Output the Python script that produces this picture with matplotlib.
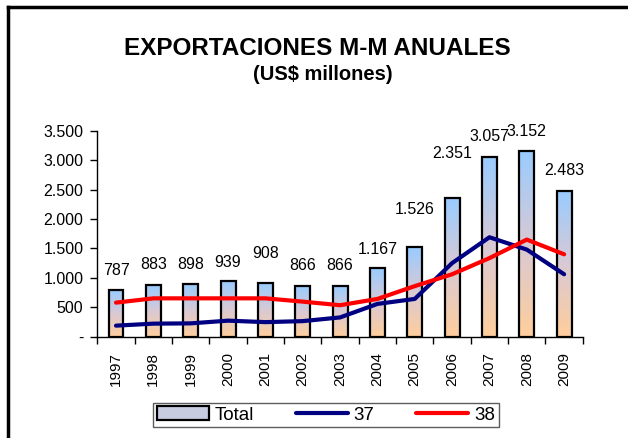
import numpy as np
import matplotlib
matplotlib.use('Agg')
import matplotlib.pyplot as plt
from matplotlib.colors import LinearSegmentedColormap
from matplotlib.patches import Rectangle

plt.rcParams['font.family'] = ['Liberation Sans', 'DejaVu Sans']

years = ['1997', '1998', '1999', '2000', '2001', '2002', '2003',
         '2004', '2005', '2006', '2007', '2008', '2009']
total = [787, 883, 898, 939, 908, 866, 866, 1167, 1526, 2351, 3057, 3152, 2483]
s37 = [185, 219, 224, 270, 245, 262, 325, 555, 640, 1250, 1690, 1480, 1060]
s38 = [577, 650, 650, 650, 650, 594, 533, 640, 858, 1060, 1335, 1650, 1400]
total_labels = ['787', '883', '898', '939', '908', '866', '866',
                '1.167', '1.526', '2.351', '3.057', '3.152', '2.483']
# label distance above the bar top (px), a few were moved up by hand
label_dy = [20, 20, 19, 19, 30, 20, 20, 18, 37, 45, 20, 20, 20]

fig = plt.figure(figsize=(6.28, 4.38), dpi=100)
ax = fig.add_axes([0.155, 0.2317, 0.773, 0.4693])

x = np.arange(len(years))
w = 0.4
cmap = LinearSegmentedColormap.from_list('grad', ['#FFCE9C', '#D9C9D4', '#99CCFF'])
grad = np.linspace(0, 1, 256).reshape(-1, 1)

bars = ax.bar(x, total, width=w, facecolor='none', edgecolor='black',
              linewidth=1.6, zorder=3, label='Total')
for b in bars:
    x0, h = b.get_x(), b.get_height()
    ax.imshow(grad, cmap=cmap, origin='lower', aspect='auto',
              extent=[x0, x0 + w, 0, h], zorder=2, interpolation='bilinear')

ax.plot(x, s37, color='#000080', lw=3.0, solid_joinstyle='round',
        solid_capstyle='round', zorder=4, label='37')
ax.plot(x, s38, color='#FF0000', lw=3.0, solid_joinstyle='round',
        solid_capstyle='round', zorder=4, label='38')

for xi, v, t, dy in zip(x, total, total_labels, label_dy):
    ax.annotate(t, (xi, v), xytext=(0, dy * 0.72), textcoords='offset points',
                ha='center', va='center', fontsize=11.5, zorder=5)

ax.set_xlim(-0.5, len(years) - 0.5)
ax.set_ylim(0, 3500)
ax.set_yticks(np.arange(0, 3501, 500))
ax.set_yticklabels(['-'] + [f'{v:,}'.replace(',', '.') for v in range(500, 3501, 500)],
                   fontsize=11.5)
ax.set_xticks(x)
ax.set_xticklabels(years, rotation=90, fontsize=11)
ax.tick_params(axis='x', length=0, pad=11)
ax.set_xticks(np.arange(-0.5, len(years), 1), minor=True)
ax.tick_params(axis='x', which='minor', length=5, width=1, direction='out')
ax.tick_params(axis='y', length=5, width=1, direction='out', pad=5)
for sp in ['top', 'right']:
    ax.spines[sp].set_visible(False)
for sp in ['left', 'bottom']:
    ax.spines[sp].set_linewidth(1)

fig.text(0.506, 0.89, 'EXPORTACIONES M-M ANUALES', ha='center', va='center',
         fontsize=17.5, fontweight='bold')
fig.text(0.514, 0.83, '(US$ millones)', ha='center', va='center',
         fontsize=14.5, fontweight='bold')

total_handle = Rectangle((0, 0), 1, 1, facecolor='#C8CCE0', edgecolor='black', lw=1.6)
leg = fig.legend([total_handle, ax.lines[0], ax.lines[1]], ['Total', '37', '38'],
                 loc='center', bbox_to_anchor=(0.519, 0.0525), ncol=3,
                 fontsize=13.5, frameon=True, fancybox=False, edgecolor='#333333',
                 handlelength=2.8, handleheight=0.7, columnspacing=2.2,
                 handletextpad=0.3, borderpad=0.2, borderaxespad=0.0)
leg.get_frame().set_linewidth(1)

# figure frame (thick black on left/top, running off the image right/bottom)
fig.add_artist(plt.Line2D([0.0127, 0.0127], [0, 0.984], transform=fig.transFigure,
                          color='black', lw=2.5))
fig.add_artist(plt.Line2D([0.0127, 1.0], [0.984, 0.984], transform=fig.transFigure,
                          color='black', lw=2.5))

fig.savefig('out.png', dpi=100)
